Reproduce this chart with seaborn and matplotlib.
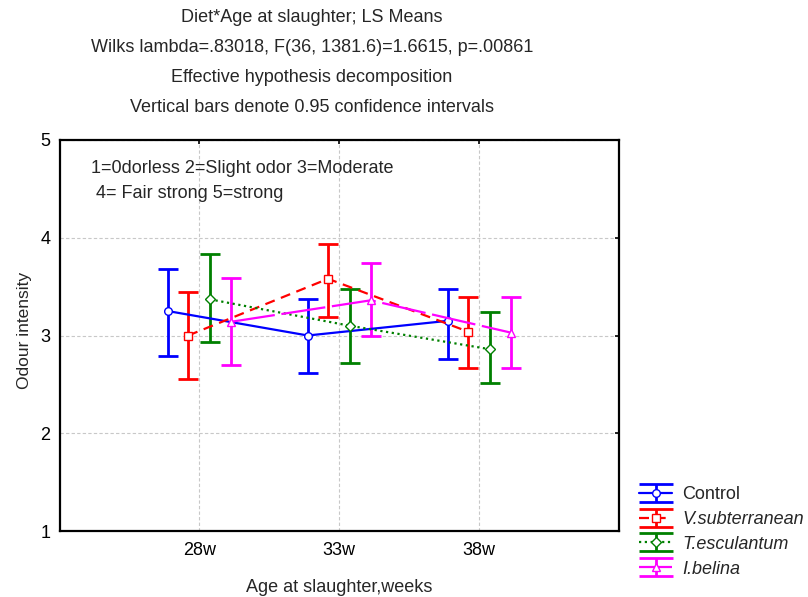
import numpy as np
import pandas as pd
import matplotlib
matplotlib.use("Agg")
import matplotlib.pyplot as plt
import seaborn as sns
from matplotlib.lines import Line2D
from matplotlib.container import ErrorbarContainer

ages = ["28w", "33w", "38w"]
diets = ["Control", "V.subterranean", "T.esculantum", "I.belina"]
control_mean = [3.25, 3.00, 3.15]
control_lo = [2.79, 2.62, 2.76]
control_hi = [3.68, 3.37, 3.48]
vsub_mean = [3.00, 3.58, 3.04]
vsub_lo = [2.55, 3.19, 2.67]
vsub_hi = [3.45, 3.94, 3.39]
tesc_mean = [3.37, 3.10, 2.86]
tesc_lo = [2.93, 2.72, 2.51]
tesc_hi = [3.83, 3.48, 3.24]
ibel_mean = [3.14, 3.36, 3.03]
ibel_lo = [2.70, 2.99, 2.67]
ibel_hi = [3.59, 3.74, 3.39]

means = [control_mean, vsub_mean, tesc_mean, ibel_mean]
los = [control_lo, vsub_lo, tesc_lo, ibel_lo]
his = [control_hi, vsub_hi, tesc_hi, ibel_hi]

colors = ["#0000ff", "#ff0000", "#008000", "#ff00ff"]
markers = ["o", "s", "D", "^"]
msizes = [5.5, 5.5, 5.5, 6]
linestyles = ["-", (0, (4.5, 3)), (0, (1, 1.6)), (0, (20, 3))]
offsets = [-0.225, -0.08, 0.075, 0.225]

rows = []
for d, m, lo, hi, off in zip(diets, means, los, his, offsets):
    for i, a in enumerate(ages):
        rows.append(dict(Diet=d, Age=a, pos=i + off, mean=m[i], lo=lo[i], hi=hi[i]))
df = pd.DataFrame(rows)

sns.set_style("white")
plt.rcParams["font.family"] = ["Liberation Sans", "DejaVu Sans"]

fig = plt.figure(figsize=(8.08, 5.97), dpi=100)
ax = fig.add_axes([59.5 / 808, 1 - 531 / 597, (619 - 59.5) / 808, (531 - 140) / 597])

handles = []
for d, c, mk, ms, ls in zip(diets, colors, markers, msizes, linestyles):
    sub = df[df.Diet == d]
    sns.lineplot(data=sub, x="pos", y="mean", ax=ax, color=c, linewidth=1.6,
                 linestyle=ls, marker=mk, markersize=ms, markerfacecolor="white",
                 markeredgecolor=c, markeredgewidth=1.0, legend=False, zorder=4,
                 sort=True)
    eb = ax.errorbar(sub.pos, sub["mean"],
                     yerr=[sub["mean"] - sub.lo, sub.hi - sub["mean"]],
                     fmt="none", ecolor=c, elinewidth=2.0, capsize=7, capthick=2.0,
                     zorder=3)
    proxy = Line2D([], [], color=c, linestyle=ls, linewidth=1.6, marker=mk,
                   markersize=ms, markerfacecolor="white", markeredgecolor=c)
    cap = Line2D([], [], color=c, marker="_", markersize=24, markeredgewidth=2.0,
                 linestyle="none")
    handles.append(ErrorbarContainer((proxy, (cap, cap), eb.lines[2]),
                                     has_xerr=False, has_yerr=True, label=d))

ax.set_xlim(-1, 3)
ax.set_ylim(1, 5)
ax.set_xticks(range(len(ages)))
ax.set_xticklabels(ages)
ax.set_yticks([1, 2, 3, 4, 5])
ax.set_yticklabels(["1", "2", "3", "4", "5"])
ax.tick_params(axis="both", direction="in", length=3, width=1.2, top=True, right=True,
               labelsize=13, colors="black")
ax.tick_params(axis="x", pad=8)
ax.tick_params(axis="y", pad=6.5)
ax.grid(True, color="#c8c8c8", linestyle=(0, (3, 2)), linewidth=0.8)
ax.set_axisbelow(True)
for s in ax.spines.values():
    s.set_color("black")
    s.set_linewidth(1.6)
ax.set_xlabel("Age at slaughter,weeks", fontsize=13, labelpad=14)
ax.set_ylabel("Odour intensity", fontsize=12.5)
ax.yaxis.set_label_coords(-0.049, 0.514)

ax.text(0.057, 0.928, "1=0dorless 2=Slight odor 3=Moderate", transform=ax.transAxes,
        fontsize=13, va="center")
ax.text(0.066, 0.864, "4= Fair strong 5=strong", transform=ax.transAxes,
        fontsize=13, va="center")

titles = ["Diet*Age at slaughter; LS Means",
          "Wilks lambda=.83018, F(36, 1381.6)=1.6615, p=.00861",
          "Effective hypothesis decomposition",
          "Vertical bars denote 0.95 confidence intervals"]
for t, yp in zip(titles, [18, 48, 77, 107]):
    fig.text(312 / 808, 1 - yp / 597, t, ha="center", va="center", fontsize=13)

leg = fig.legend(handles=handles, loc="upper left",
                 bbox_to_anchor=(632 / 808, 1 - 479 / 597), frameon=False,
                 fontsize=13, handlelength=1.83, handletextpad=0.55,
                 labelspacing=0.43, borderaxespad=0)
for txt in leg.get_texts()[1:]:
    txt.set_fontstyle("italic")

fig.savefig("out.png", dpi=100)
